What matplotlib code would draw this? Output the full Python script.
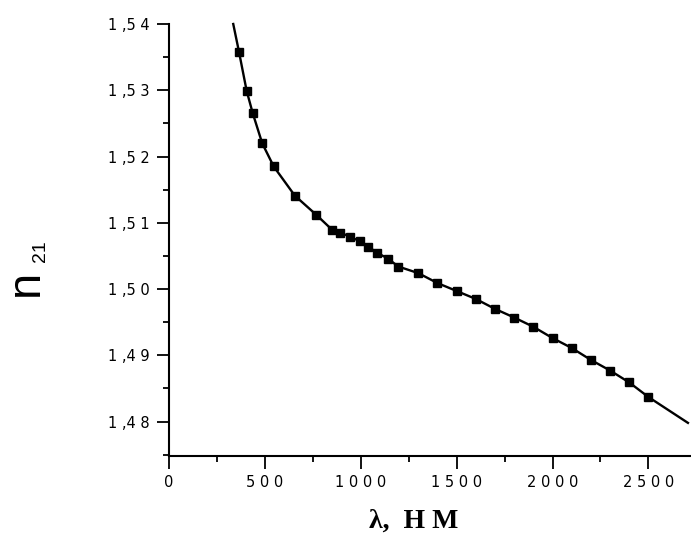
import matplotlib
matplotlib.use("Agg")
import matplotlib.pyplot as plt
from matplotlib.ticker import FixedLocator, MultipleLocator

# Data
wavelength_nm = [365, 405, 436, 486, 546, 656, 768, 852, 894, 944, 996, 1040,
                 1083, 1142, 1195, 1300, 1400, 1500, 1600, 1700, 1800, 1900,
                 2000, 2100, 2200, 2300, 2400, 2500]
n21 = [1.5358, 1.5299, 1.5266, 1.5220, 1.5185, 1.5141, 1.5112, 1.5089, 1.5085,
       1.5079, 1.5072, 1.5064, 1.5055, 1.5046, 1.5034, 1.5024, 1.5009, 1.4997,
       1.4985, 1.4970, 1.4957, 1.4943, 1.4926, 1.4911, 1.4893, 1.4877, 1.4859,
       1.4837]
# fitted curve end points (line only)
curve_start = (335, 1.5400)
curve_end = (2706, 1.4798)

x_ticks = [0, 500, 1000, 1500, 2000, 2500]
x_tick_labels = ["0", "5 0 0", "1 0 0 0", "1 5 0 0", "2 0 0 0", "2 5 0 0"]
y_ticks = [1.48, 1.49, 1.50, 1.51, 1.52, 1.53, 1.54]
y_tick_labels = ["1 ,4 8", "1 ,4 9", "1 ,5 0", "1 ,5 1", "1 ,5 2", "1 ,5 3", "1 ,5 4"]

fig = plt.figure(figsize=(6.91, 5.44), dpi=100)
ax = fig.add_axes([169/691, 1 - 456/544, 1 - 169/691, (456 - 24)/544])

line_x = [curve_start[0]] + wavelength_nm + [curve_end[0]]
line_y = [curve_start[1]] + n21 + [curve_end[1]]
ax.plot(line_x, line_y, color="black", lw=1.7, solid_joinstyle="round", clip_on=False)
ax.plot(wavelength_nm, n21, linestyle="none", marker="s", ms=5.2, color="black")

ax.set_xlim(0, 2722)
ax.set_ylim(1.4748, 1.54)

ax.spines["top"].set_visible(False)
ax.spines["right"].set_visible(False)
ax.spines["left"].set_linewidth(1.5)
ax.spines["bottom"].set_linewidth(1.5)

ax.xaxis.set_major_locator(FixedLocator(x_ticks))
ax.set_xticklabels(x_tick_labels)
ax.xaxis.set_minor_locator(MultipleLocator(250))
ax.yaxis.set_major_locator(FixedLocator(y_ticks))
ax.set_yticklabels(y_tick_labels)
ax.yaxis.set_minor_locator(MultipleLocator(0.005))

ax.tick_params(which="major", direction="out", length=9, width=1.3, labelsize=10.5, pad=5)
ax.tick_params(which="minor", direction="out", length=4, width=1.3)
for lbl in ax.get_xticklabels() + ax.get_yticklabels():
    lbl.set_fontfamily("DejaVu Sans")

# y-axis label: "n" with subscript "21", rotated
fig.text(26/691, 1 - 283/544, "n", rotation=90, fontsize=34,
         ha="center", va="center", family="Liberation Sans")
fig.text(40/691, 1 - 251/544, "21", rotation=90, fontsize=14,
         ha="center", va="center", family="Liberation Sans")
fig.text(414/691, 1 - 521/544, "λ,  Н М", fontsize=20, ha="center", va="center",
         family="Liberation Serif", fontweight="bold")

fig.savefig("out.png", dpi=100)
